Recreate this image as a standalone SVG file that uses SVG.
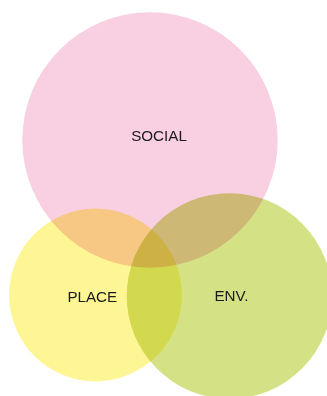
<svg xmlns="http://www.w3.org/2000/svg" width="327" height="396" viewBox="0 0 327 396">
<style>
.c{mix-blend-mode:multiply}
.t{font-family:"Liberation Sans",Arial,sans-serif;font-size:15.2px;fill:#1a1a1a;text-anchor:middle}
</style>
<rect width="327" height="396" fill="#ffffff"/>
<g style="isolation:isolate">
<g id="place"><circle class="c" cx="95.5" cy="295" r="86.4" fill="#FEF595"/></g>
<g id="social"><circle class="c" cx="150" cy="140" r="127.7" fill="#F8D0E2"/></g>
<g id="env"><circle class="c" cx="229.4" cy="296" r="102.7" fill="#D4E285"/></g>
</g>
<g id="labels">
<text class="t" x="159" y="140.7">SOCIAL</text>
<text class="t" x="92.3" y="302">PLACE</text>
<text class="t" x="231.5" y="301">ENV.</text>
</g>
<g id="connectors"/>
</svg>
